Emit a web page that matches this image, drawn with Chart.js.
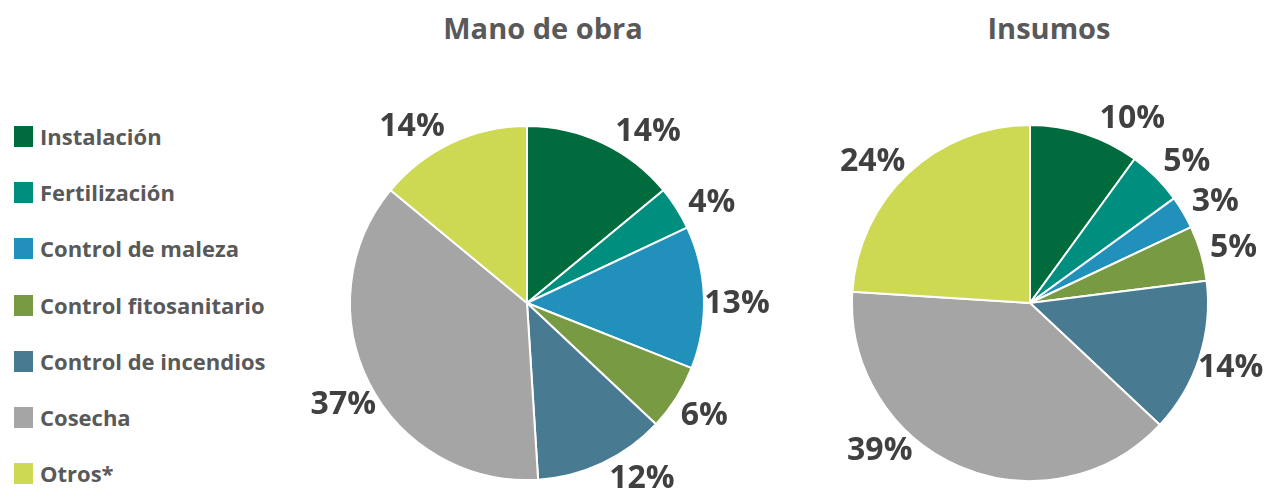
<!DOCTYPE html>
<html>
<head>
<meta charset="utf-8">
<script src="https://cdn.jsdelivr.net/npm/chart.js@4"></script>
<style>
  body { margin: 0; background: #fff; width: 1266px; height: 488px; overflow: hidden; position: relative; font-family: "Open Sans", sans-serif; }
  .titulo { position: absolute; top: 8px; font-weight: 700; font-size: 29px; color: #595959; text-align: center; width: 400px; }
  #leyenda { position: absolute; left: 14px; top: 126px; }
  .fila { height: 56.2px; display: flex; align-items: flex-start; }
  .caja { width: 19px; height: 21px; margin-right: 7px; }
  .texto { font-weight: 700; font-size: 22px; line-height: 21px; color: #595959; }
  canvas { position: absolute; top: 0; }
</style>
</head>
<body>
<div class="titulo" style="left:343px">Mano de obra</div>
<div class="titulo" style="left:849px">Insumos</div>
<div id="leyenda"></div>
<canvas id="manoChart" width="500" height="488" style="left:290px"></canvas>
<canvas id="insumosChart" width="473" height="488" style="left:793px"></canvas>
<script>
const categorias = ['Instalación', 'Fertilización', 'Control de maleza', 'Control fitosanitario', 'Control de incendios', 'Cosecha', 'Otros*'];
const manoDeObra = [14, 4, 13, 6, 12, 37, 14];
const insumos = [10, 5, 3, 5, 14, 39, 24];
const colores = ['#006B3C', '#008F7E', '#2191BB', '#779A43', '#487A92', '#A5A5A5', '#CDD952'];

// ajuste del ángulo de las etiquetas (grados), para imitar la colocación original
const ajusteMano = [10, 4, 2, 0, -8, -2, -8];
const ajusteInsumos = [11, 3, 2, 1, 0, 22, -5];

// Leyenda
const leyenda = document.getElementById('leyenda');
categorias.forEach((cat, i) => {
  const fila = document.createElement('div');
  fila.className = 'fila';
  fila.innerHTML = `<div class="caja" style="background:${colores[i]}"></div><div class="texto">${cat}</div>`;
  leyenda.appendChild(fila);
});

// Plugin para las etiquetas de porcentaje fuera del pastel
const etiquetasFuera = {
  id: 'etiquetasFuera',
  afterDatasetsDraw(chart, args, opts) {
    const ctx = chart.ctx;
    const meta = chart.getDatasetMeta(0);
    const datos = chart.data.datasets[0].data;
    ctx.save();
    ctx.font = '700 32px "Open Sans"';
    ctx.fillStyle = '#404040';
    ctx.textAlign = 'center';
    ctx.textBaseline = 'middle';
    meta.data.forEach((arco, i) => {
      const p = arco.getProps(['x', 'y', 'startAngle', 'endAngle', 'outerRadius'], true);
      const ang = (p.startAngle + p.endAngle) / 2 + (opts.ajuste[i] || 0) * Math.PI / 180;
      const d = p.outerRadius + 33;
      ctx.fillText(datos[i] + '%', p.x + Math.cos(ang) * d, p.y + Math.sin(ang) * d);
    });
    ctx.restore();
  }
};

function crearPastel(idCanvas, valores, ajuste, pad) {
  const ctx = document.getElementById(idCanvas).getContext('2d');
  return new Chart(ctx, {
    type: 'pie',
    data: {
      labels: categorias,
      datasets: [{
        data: valores,
        backgroundColor: colores,
        borderColor: '#ffffff',
        borderWidth: 2
      }]
    },
    options: {
      responsive: false,
      animation: false,
      layout: { padding: pad },
      plugins: {
        legend: { display: false },
        tooltip: { enabled: false },
        etiquetasFuera: { ajuste: ajuste }
      }
    },
    plugins: [etiquetasFuera]
  });
}

crearPastel('manoChart', manoDeObra, ajusteMano, { top: 125, bottom: 7, left: 59, right: 85 });
crearPastel('insumosChart', insumos, ajusteInsumos, { top: 124, bottom: 6, left: 58, right: 57 });
</script>
</body>
</html>
